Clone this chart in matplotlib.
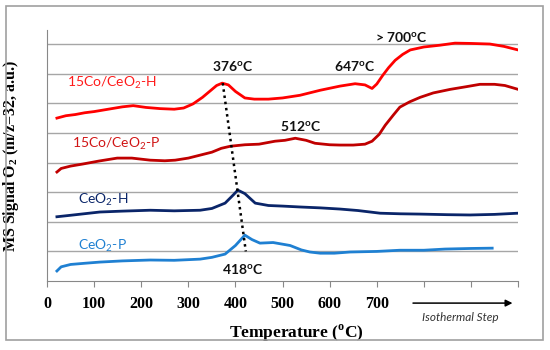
import matplotlib
matplotlib.use("Agg")
import matplotlib.pyplot as plt
from matplotlib.patches import Rectangle
from matplotlib.transforms import blended_transform_factory

plt.rcParams['mathtext.fontset'] = 'custom'
plt.rcParams['mathtext.rm'] = 'Lato'
plt.rcParams['mathtext.bf'] = 'Lato:bold'
plt.rcParams['mathtext.sf'] = 'Liberation Serif:bold'

# 15Co/CeO2-H
t_co_h = [21, 40, 60, 80, 100, 130, 160, 183, 210, 240, 270, 290, 310, 330, 345, 360, 372,
          385, 400, 420, 440, 470, 500, 537, 580, 622, 654, 675, 690, 700, 713, 725, 739,
          755, 771, 800, 834, 866, 900, 940, 970, 1000]
s_co_h = [5.5, 5.58, 5.62, 5.68, 5.72, 5.8, 5.88, 5.92, 5.86, 5.82, 5.8, 5.84, 5.98, 6.2,
          6.4, 6.6, 6.68, 6.62, 6.4, 6.18, 6.14, 6.14, 6.18, 6.27, 6.44, 6.58, 6.66, 6.62,
          6.5, 6.65, 6.95, 7.2, 7.45, 7.65, 7.8, 7.9, 7.96, 8.03, 8.02, 8.0, 7.92, 7.8]

# 15Co/CeO2-P
t_co_p = [21, 30, 50, 76, 110, 149, 180, 219, 250, 272, 300, 325, 350, 370, 389, 420, 450,
          484, 505, 527, 550, 569, 600, 622, 650, 675, 690, 705, 718, 735, 749, 770, 792,
          820, 856, 890, 919, 950, 972, 1000]
s_co_p = [3.68, 3.8, 3.88, 3.95, 4.05, 4.15, 4.15, 4.08, 4.06, 4.08, 4.15, 4.25, 4.35, 4.48,
          4.55, 4.6, 4.62, 4.72, 4.75, 4.82, 4.75, 4.65, 4.6, 4.59, 4.59, 4.62, 4.72, 4.95,
          5.26, 5.6, 5.87, 6.05, 6.2, 6.35, 6.47, 6.56, 6.64, 6.64, 6.6, 6.47]

# CeO2-H
t_ce_h = [21, 50, 112, 160, 219, 270, 325, 350, 378, 395, 405, 420, 442, 470, 500, 537, 580,
          622, 660, 707, 750, 792, 850, 898, 950, 1000]
s_ce_h = [2.17, 2.22, 2.33, 2.36, 2.39, 2.37, 2.39, 2.45, 2.63, 2.9, 3.07, 2.95, 2.63, 2.55,
          2.53, 2.5, 2.47, 2.43, 2.38, 2.29, 2.27, 2.26, 2.24, 2.23, 2.25, 2.29]

# CeO2-P
t_ce_p = [21, 30, 50, 80, 112, 160, 219, 270, 325, 350, 378, 400, 420, 435, 452, 480, 516,
          540, 558, 580, 610, 643, 700, 749, 800, 845, 900, 945]
s_ce_p = [0.34, 0.48, 0.56, 0.6, 0.64, 0.68, 0.71, 0.7, 0.74, 0.8, 0.91, 1.2, 1.55, 1.4,
          1.28, 1.3, 1.2, 1.05, 0.98, 0.94, 0.94, 0.98, 1.0, 1.04, 1.04, 1.08, 1.1, 1.11]

# peak shift guide line
shift_t = [373, 422]
shift_s = [6.68, 1.0]

xticks = list(range(0, 1001, 100))
xticklabels = ['0', '100', '200', '300', '400', '500', '600', '700', '', '', '']

fig = plt.figure(figsize=(5.5, 3.5), dpi=100)
ax = fig.add_axes([0.0855, 0.197, 0.8565, 0.717])

# outer frame
fig.patches.append(Rectangle((0.011, 0.029), 0.976, 0.954, transform=fig.transFigure,
                             fill=False, edgecolor='#a0a0a0', linewidth=1.2))

ax.plot(t_co_h, s_co_h, color='#ff0000', linewidth=2)
ax.plot(t_co_p, s_co_p, color='#c00000', linewidth=2)
ax.plot(t_ce_h, s_ce_h, color='#0a2569', linewidth=2)
ax.plot(t_ce_p, s_ce_p, color='#1f80d2', linewidth=2)
ax.plot(shift_t, shift_s, color='black', linewidth=1.8, linestyle=(0, (1, 1.5)))

ax.set_xlim(0, 1000)
ax.set_ylim(0, 8.47)
ax.set_yticks([1, 2, 3, 4, 5, 6, 7, 8])
ax.set_yticklabels([])
ax.tick_params(axis='y', length=0)
ax.grid(axis='y', color='#a6a6a6', linewidth=1)
ax.set_axisbelow(True)
ax.set_xticks(xticks)
ax.set_xticklabels(xticklabels, fontfamily='Liberation Serif', fontweight='bold', fontsize=11.5)
ax.tick_params(axis='x', direction='out', length=4, color='#888888', pad=7)
for side in ['top', 'right']:
    ax.spines[side].set_visible(False)
for side in ['left', 'bottom']:
    ax.spines[side].set_color('#888888')

ax.set_xlabel('Temperature ($^{\\mathsf{o}}$C)', fontfamily='Liberation Serif',
              fontweight='bold', fontsize=12.5)
ax.xaxis.set_label_coords(0.53, -0.165)
ax.set_ylabel('MS Signal O$_{\\mathsf{2}}$ (m/z=32, a.u.)', fontfamily='Liberation Serif',
              fontweight='bold', fontsize=11.5)
ax.yaxis.set_label_coords(-0.055, 0.5)

lab = dict(fontfamily='Lato', fontsize=10, va='center', ha='left')
ax.text(42, 6.68, '15Co/CeO$_2$-H', color='#ff1a1a', **lab)
ax.text(53, 4.62, '15Co/CeO$_2$-P', color='#d01515', **lab)
ax.text(66, 2.75, 'CeO$_2$-H', color='#0a2569', **lab)
ax.text(66, 1.2, 'CeO$_2$-P', color='#1f80d2', **lab)

ann = dict(fontfamily='Lato', fontweight='bold', fontsize=10, ha='center', va='center',
           color='#111111')
ax.text(393, 7.22, '376$^{\\mathbf{o}}$C', **ann)
ax.text(652, 7.25, '647$^{\\mathbf{o}}$C', **ann)
ax.text(752, 8.23, '> 700$^{\\mathbf{o}}$C', **ann)
ax.text(539, 5.2, '512$^{\\mathbf{o}}$C', **ann)
ax.text(416, 0.4, '418$^{\\mathbf{o}}$C', **ann)

ax.annotate('', xy=(994, 0.134), xytext=(771, 0.134),
            xycoords=('data', 'figure fraction'), textcoords=('data', 'figure fraction'),
            arrowprops=dict(arrowstyle='-|>', color='black', linewidth=1.1,
                            mutation_scale=10), annotation_clip=False)
ax.text(877, 0.094, 'Isothermal Step',
        transform=blended_transform_factory(ax.transData, fig.transFigure),
        fontfamily='Lato', fontstyle='italic', fontsize=8.5,
        ha='center', va='center', color='#333333')

fig.savefig('out.png', dpi=100)
